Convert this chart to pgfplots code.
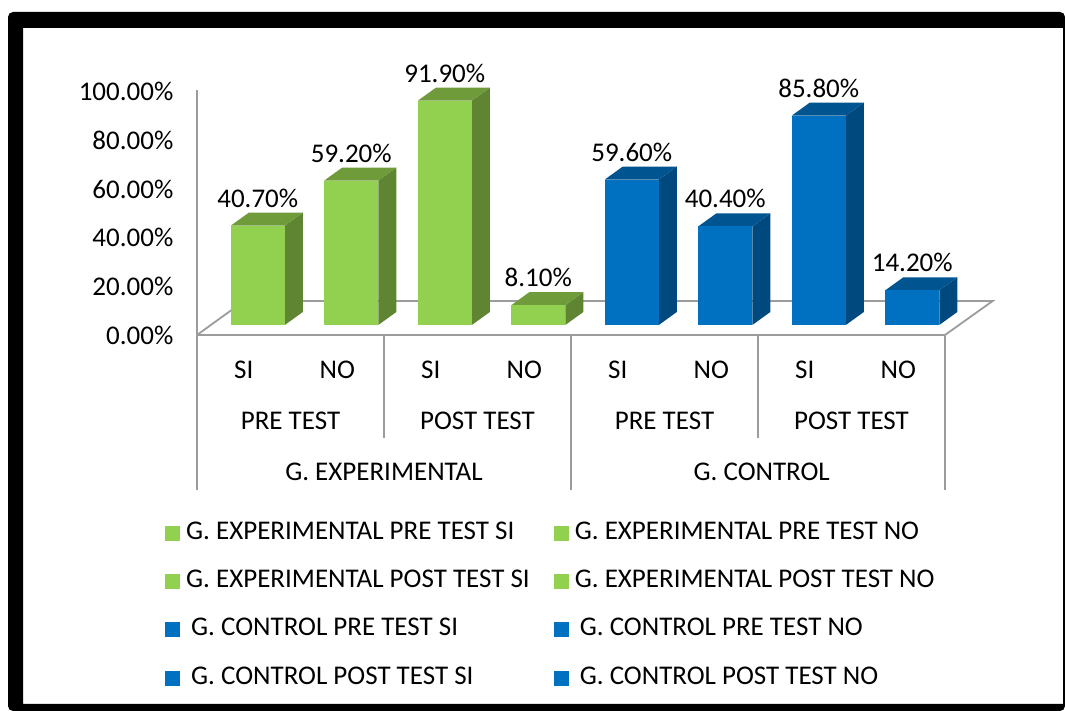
\documentclass[border=0pt]{standalone}
\usepackage{pgfplots}
\usepackage{fontspec}
\setmainfont{Carlito}
\pgfplotsset{compat=1.18}
\definecolor{gF}{HTML}{92D050}\definecolor{gS}{HTML}{5F8432}\definecolor{gT}{HTML}{6F9B3B}
\definecolor{bF}{HTML}{0070C0}\definecolor{bS}{HTML}{00497E}\definecolor{bT}{HTML}{00548F}
\definecolor{axg}{HTML}{9C9C9C}
\newcommand{\lf}{\fontsize{27}{30}\selectfont}
% depth faces of one 3D bar: centre x, value, side colour, top colour
\newcommand{\depth}[4]{%
 \pgfmathsetmacro{\xa}{#1-0.289}\pgfmathsetmacro{\xb}{#1+0.289}\pgfmathsetmacro{\xc}{#1+0.482}\pgfmathsetmacro{\xd}{#1-0.096}%
 \pgfmathsetmacro{\yt}{#2+5.33}%
 \edef\tmp{\noexpand\addplot[forget plot,fill=#3,draw=none] coordinates {(\xb,0) (\xc,5.33) (\xc,\yt) (\xb,#2)} --cycle;
 \noexpand\addplot[forget plot,fill=#4,draw=none] coordinates {(\xa,#2) (\xb,#2) (\xc,\yt) (\xd,\yt)} --cycle;}\tmp}
\pgfplotsset{front/.style={ybar,bar width=54pt,bar shift=0pt,fill=#1,draw=none,
  area legend,legend image code/.code={\fill[fill=#1,draw=none] (0pt,-7.5pt) rectangle (15pt,7.5pt);},
  nodes near coords={\pgfmathprintnumber[fixed,fixed zerofill,precision=2,assume math mode=true]{\pgfplotspointmeta}\%},
  every node near coord/.append style={font=\lf,text=black,anchor=south,inner sep=0pt,yshift=18pt}}}
\begin{document}
\begin{tikzpicture}[x=1pt,y=1pt]
\path[use as bounding box,fill=white] (0,0) rectangle (1065,711);
\fill[black,even odd rule,rounded corners=0pt] [rounded corners=5pt] (8,0) -- (8,699) -- (1065,699) -- (1065,0) -- cycle
  [sharp corners] (23,7) rectangle (1063,683);
\begin{axis}[at={(197pt,376pt)},anchor=south west,scale only axis,width=748pt,height=245pt,
  clip=false,xmin=-0.5,xmax=7.5,ymin=-4.1,ymax=96.3,
  axis x line=bottom,axis y line=left,axis line style={axg,line width=1.8pt,-},
  tick style={draw=none},
  xtick={0,...,7},xticklabels={SI,NO,SI,NO,SI,NO,SI,NO},
  ytick={-4.1,15.7,35.7,55.7,75.7,95.7},
  yticklabels={0.00\%,20.00\%,40.00\%,60.00\%,80.00\%,100.00\%},
  ticklabel style={font=\lf},
  xticklabel style={anchor=center,yshift=-33pt},
  yticklabel style={anchor=east,xshift=-18pt},
  legend columns=2,
  legend cell align=left,
  legend style={at={(rel axis cs:-0.0428,-0.763)},anchor=north west,draw=none,fill=none,font=\lf,inner sep=0pt,
    row sep=26.4pt,
    /tikz/every even column/.append style={column sep=24pt},
    /tikz/every odd column/.append style={column sep=6pt},
    nodes={inner sep=0pt,text height=17pt,text depth=5pt}},
]
% floor
\addplot[forget plot,axg,line width=1.8pt] coordinates {(-0.5,-4.1) (0.003,9.84) (8.01,9.84) (7.5,-4.1)};
% dividers
\addplot[forget plot,axg,line width=1.5pt] coordinates {(-0.5,-4.1) (-0.5,-67.6)};
\addplot[forget plot,axg,line width=1.5pt] coordinates {(1.5,-4.1) (1.5,-46.3)};
\addplot[forget plot,axg,line width=1.5pt] coordinates {(3.5,-4.1) (3.5,-67.6)};
\addplot[forget plot,axg,line width=1.5pt] coordinates {(5.5,-4.1) (5.5,-46.3)};
\addplot[forget plot,axg,line width=1.5pt] coordinates {(7.5,-4.1) (7.5,-67.6)};
\depth{0.15}{40.7}{gS}{gT}\depth{1.15}{59.2}{gS}{gT}\depth{2.15}{91.9}{gS}{gT}\depth{3.15}{8.1}{gS}{gT}
\depth{4.15}{59.6}{bS}{bT}\depth{5.15}{40.4}{bS}{bT}\depth{6.15}{85.8}{bS}{bT}\depth{7.15}{14.2}{bS}{bT}
\addplot[front=gF] coordinates {(0.15,40.7)};
\addplot[front=gF] coordinates {(1.15,59.2)};
\addplot[front=gF] coordinates {(2.15,91.9)};
\addplot[front=gF] coordinates {(3.15,8.1)};
\addplot[front=bF] coordinates {(4.15,59.6)};
\addplot[front=bF] coordinates {(5.15,40.4)};
\addplot[front=bF] coordinates {(6.15,85.8)};
\addplot[front=bF] coordinates {(7.15,14.2)};
\legend{G. EXPERIMENTAL PRE TEST SI,G. EXPERIMENTAL PRE TEST NO,G. EXPERIMENTAL POST TEST SI,G. EXPERIMENTAL POST TEST NO,\hspace{5pt}G. CONTROL PRE TEST SI,\hspace{5pt}G. CONTROL PRE TEST NO,\hspace{5pt}G. CONTROL POST TEST SI,\hspace{5pt}G. CONTROL POST TEST NO}
\node[font=\lf] at (axis cs:0.5,-39.3) {PRE TEST};
\node[font=\lf] at (axis cs:2.5,-39.3) {POST TEST};
\node[font=\lf] at (axis cs:4.5,-39.3) {PRE TEST};
\node[font=\lf] at (axis cs:6.5,-39.3) {POST TEST};
\node[font=\lf] at (axis cs:1.5,-60.2) {G. EXPERIMENTAL};
\node[font=\lf] at (axis cs:5.54,-60.2) {G. CONTROL};
\end{axis}
\end{tikzpicture}
\end{document}
